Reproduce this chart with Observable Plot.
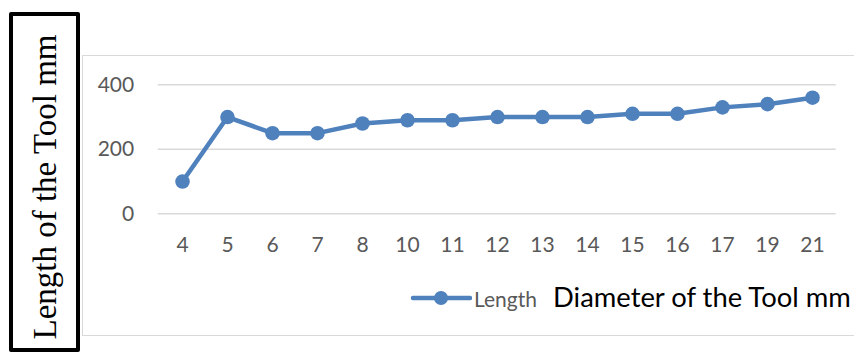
<!DOCTYPE html>
<html>
<head>
<meta charset="utf-8">
<script src="https://cdn.jsdelivr.net/npm/d3@7"></script>
<script src="https://cdn.jsdelivr.net/npm/@observablehq/plot@0.6"></script>
<style>
  html, body { margin: 0; padding: 0; background: #fff; }
  #wrap { position: relative; width: 854px; height: 355px; overflow: hidden; font-family: Lato, "Open Sans", sans-serif; }
  #chart { position: absolute; left: 0; top: 0; }
  #frame { position: absolute; left: 82px; top: 55px; width: 800px; height: 281px; border: 1.5px solid #d9d9d9; border-right: none; box-sizing: border-box; }
  #ybox { position: absolute; left: 9px; top: 12px; width: 71px; height: 340px; border: 4px solid #000; border-radius: 2px; box-sizing: border-box; background: #fff; }
  #ylabel { position: absolute; left: 45px; top: 187px; transform: translate(-50%, -50%) rotate(-90deg); white-space: nowrap; font-family: "Liberation Serif", "DejaVu Serif", serif; font-size: 33px; line-height: 1; color: #000; }
  #legend { position: absolute; left: 410px; top: 282px; height: 32px; display: flex; align-items: center; }
  #legend .lab { font-size: 21px; color: #595959; margin-left: 2px; }
  #xtitle { position: absolute; left: 553px; top: 280px; font-size: 27.4px; color: #000; white-space: nowrap; }
</style>
</head>
<body>
<div id="wrap">
  <div id="frame"></div>
  <div id="chart"></div>
  <div id="ybox"></div>
  <div id="ylabel">Length of the Tool mm</div>
  <div id="legend">
    <svg width="62" height="20"><line x1="3" y1="10" x2="60" y2="10" stroke="#4f81bd" stroke-width="4.5" stroke-linecap="round"/><circle cx="31" cy="10" r="7" fill="#4f81bd"/></svg>
    <span class="lab">Length</span>
  </div>
  <div id="xtitle">Diameter of the Tool mm</div>
</div>
<script>
const diameters = ["4","5","6","7","8","10","11","12","13","14","15","16","17","19","21"];
const lengths = [100, 300, 250, 250, 280, 290, 290, 300, 300, 300, 310, 310, 330, 340, 360];
const yTicks = [0, 200, 400];
const seriesName = "Length";

const data = diameters.map((d, i) => ({d, len: lengths[i], series: seriesName}));

const chart = Plot.plot({
  width: 854,
  height: 355,
  marginLeft: 157.7,
  marginRight: 18.3,
  marginTop: 84.3,
  marginBottom: 141.7,
  style: { fontFamily: "Lato, 'Open Sans', sans-serif", background: "transparent", overflow: "visible" },
  x: { type: "point", domain: diameters, padding: 0.5 },
  y: { domain: [0, 400] },
  marks: [
    Plot.ruleY(yTicks, { stroke: "#d9d9d9", strokeWidth: 1.5 }),
    Plot.axisY({ ticks: yTicks, tickSize: 0, tickPadding: 24, fontSize: 21, fill: "#595959", label: null }),
    Plot.axisX({ tickSize: 0, tickPadding: 23, fontSize: 21, fill: "#595959", label: null }),
    Plot.line(data, { x: "d", y: "len", stroke: "#4f81bd", strokeWidth: 4.5, strokeLinejoin: "round" }),
    Plot.dot(data, { x: "d", y: "len", r: 7.3, fill: "#4f81bd", stroke: "none" })
  ]
});
document.getElementById("chart").appendChild(chart);
</script>
</body>
</html>
